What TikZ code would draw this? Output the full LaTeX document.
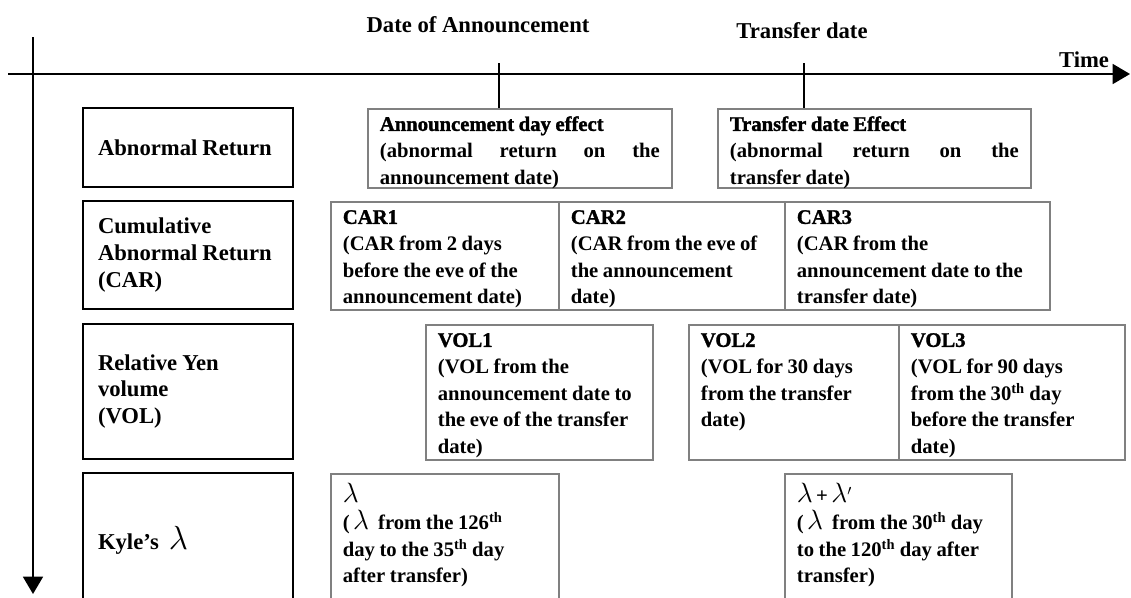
\documentclass[tikz,border=0pt]{standalone}
\usepackage{fontspec}
\setmainfont{Liberation Serif}
\newfontface\heavyfont{Liberation Serif Bold}[FakeBold=1.5]
\usepackage{tikz}
\usetikzlibrary{arrows.meta}
\hyphenpenalty=10000
\exhyphenpenalty=10000
\newcommand\biglam{\scalebox{1.45}{$\lambda$}}
\newcommand\tightsp{\spaceskip=.22em plus .1em minus .05em\xspaceskip=\spaceskip\relax}

\begin{document}
\begin{tikzpicture}[x=0.75pt,y=-0.75pt,>={Triangle[length=13pt,width=15pt]},
  axis/.style={line width=1.2pt},
  label box/.style={draw,line width=1.3pt,text width=135pt,inner xsep=11.25pt,
    minimum height=#1,align=left,font=\fontsize{17}{20}\selectfont\bfseries,
    execute at begin node=\tightsp},
  data box/.style={draw=gray,line width=1.3pt,anchor=north west,inner xsep=9pt,
    inner ysep=0pt,text height=16.5pt,align=left,font=\fontsize{15.5}{20}\selectfont\bfseries,
    execute at begin node=\tightsp},
  head/.style={anchor=base,font=\fontsize{17}{20}\selectfont\bfseries}]
  \useasboundingbox (0,0) rectangle (1131,597);
  \clip (0,0) rectangle (1131,597);

  % time axis and category axis
  \coordinate (tStart) at (8,74);
  \coordinate (tEnd) at (1130,74);
  \coordinate (cStart) at (33,37);
  \coordinate (cEnd) at (33,594);
  \draw[axis,->] (tStart) -- (tEnd);
  \draw[axis,->] (cStart) -- (cEnd);
  \node[head] (time) at (1084,67) {Time};
  \node[head] (annDate) at (478,32) {Date of Announcement};
  \node[head] (trfDate) at (802,38) {Transfer date};

  % left column
  \node[label box=59.25pt] (ar) at (188,147.5) {Abnormal Return};
  \node[label box=81pt] (car) at (188,255) {Cumulative\\Abnormal Return\\(CAR)};
  \node[label box=101.25pt] (vol) at (188,391.5) {Relative Yen\\volume\\(VOL)};
  \node[label box=100.5pt] (kyle) at (188,540) {Kyle’s~~\biglam};

  % abnormal return
  \node[data box,text width=210pt,text depth=42.75pt] (ann) at (367,108)
    {{\heavyfont Announcement day effect}\\(abnormal\hfill return\hfill on\hfill the\\announcement date)};
  \node[data box,text width=216.75pt,text depth=42.75pt] (trf) at (717,108)
    {{\heavyfont Transfer date Effect}\\(abnormal\hfill return\hfill on\hfill the\\transfer date)};

  % CAR
  \node[data box,text width=153pt,text depth=64.5pt] (car1) at (330,201)
    {{\heavyfont CAR1}\\(CAR from 2 days\\before the eve of the\\announcement date)};
  \node[data box,text width=151.5pt,text depth=64.5pt] (car2) at (558,201)
    {{\heavyfont CAR2}\\(CAR from the eve of\\the announcement\\date)};
  \node[data box,text width=180.75pt,text depth=64.5pt] (car3) at (784,201)
    {{\heavyfont CAR3}\\(CAR from the\\announcement date to the\\transfer date)};

  % VOL
  \node[data box,text width=152.25pt,text depth=84.75pt] (vol1) at (425,324)
    {{\heavyfont VOL1}\\(VOL from the\\announcement date to\\the eve of the transfer\\date)};
  \node[data box,text width=139.5pt,text depth=84.75pt] (vol2) at (688,324)
    {{\heavyfont VOL2}\\(VOL for 30 days\\from the transfer\\date)};
  \node[data box,text width=151.5pt,text depth=84.75pt] (vol3) at (898,324)
    {{\heavyfont VOL3}\\(VOL for 90 days\\from the 30\textsuperscript{th} day\\before the transfer\\date)};

  % Kyle's lambda
  \node[data box,text width=153pt,text height=21.75pt,text depth=78.75pt] (lam1) at (330,473)
    {\biglam\\(\,\biglam\ \ from the 126\textsuperscript{th}\\day to the 35\textsuperscript{th} day\\after transfer)};
  \node[data box,text width=152.25pt,text height=21.75pt,text depth=78.75pt] (lam2) at (784,473)
    {\biglam\,+\,\biglam$'$\\(\,\biglam\ \ from the 30\textsuperscript{th} day\\to the 120\textsuperscript{th} day after\\transfer)};

  % date ticks
  \coordinate (annTick) at (499,63);
  \coordinate (trfTick) at (804,63);
  \draw[axis] (annTick) -- (annTick |- ann.north);
  \draw[axis] (trfTick) -- (trfTick |- trf.north);
\end{tikzpicture}
\end{document}
